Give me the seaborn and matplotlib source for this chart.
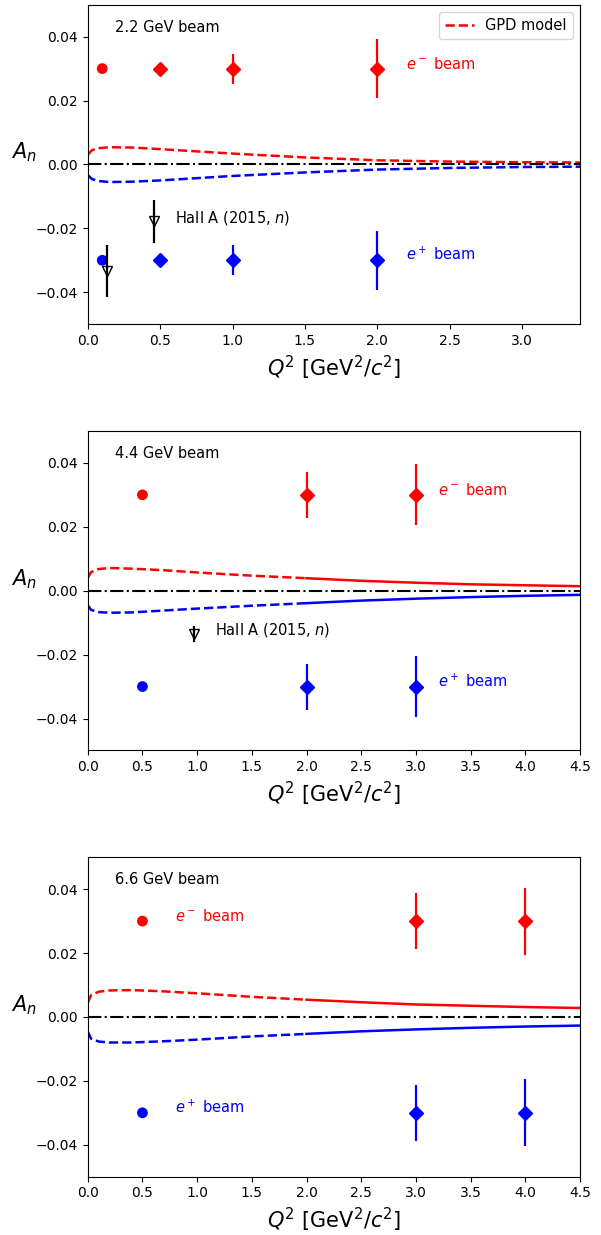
import numpy as np
import pandas as pd
import matplotlib
matplotlib.use("Agg")
import matplotlib.pyplot as plt
import seaborn as sns

# beam energies shown in the three panels
beams = ["2.2 GeV beam", "4.4 GeV beam", "6.6 GeV beam"]
x_max = [3.4, 4.5, 4.5]

# projected e- / e+ points (A_n = +/-0.03), first point of each panel is a circle
q2_circle = [0.1, 0.5, 0.5]
q2_diamond = [[0.5, 1.0, 2.0], [2.0, 3.0], [3.0, 4.0]]
err_diamond = [[0.0, 0.0047, 0.0092], [0.0072, 0.0095], [0.0088, 0.0105]]
an_value = 0.03

# GPD model curves
q2_model_top = [0.0, 0.03, 0.08, 0.15, 0.3, 0.5, 0.75, 1.0, 1.5, 2.0, 2.5, 3.0, 3.4]
red_top = [0.003, 0.0045, 0.0051, 0.0054, 0.0053, 0.0048, 0.0041, 0.0034, 0.0022, 0.0013, 0.0009, 0.0007, 0.0006]
blue_top = [-0.0033, -0.0046, -0.0052, -0.0055, -0.0054, -0.005, -0.0043, -0.0036, -0.0025, -0.0016, -0.0011, -0.0008, -0.0007]

q2_model = [0.0, 0.03, 0.1, 0.2, 0.4, 0.7, 1.0, 1.5, 2.0, 2.5, 3.0, 3.5, 4.0, 4.5]
red_mid = [0.004, 0.0058, 0.0068, 0.0071, 0.0069, 0.0064, 0.0057, 0.0047, 0.0039, 0.0031, 0.0025, 0.002, 0.0017, 0.0014]
blue_mid = [-0.0045, -0.006, -0.0067, -0.0069, -0.0068, -0.0062, -0.0056, -0.0047, -0.0039, -0.0031, -0.0025, -0.002, -0.0016, -0.0013]
red_bot = [0.0044, 0.0068, 0.0079, 0.0083, 0.0084, 0.008, 0.0074, 0.0063, 0.0054, 0.0046, 0.0039, 0.0035, 0.0031, 0.0028]
blue_bot = [-0.0045, -0.0068, -0.0077, -0.008, -0.008, -0.0076, -0.0071, -0.0061, -0.0053, -0.0045, -0.0039, -0.0034, -0.003, -0.0027]

# Hall A 2015 neutron data
halla_q2 = [[0.13, 0.46], [0.97], []]
halla_an = [[-0.0333, -0.0178], [-0.0135], []]
halla_err = [[0.0081, 0.0067], [0.0025], []]

# label positions
beam_text_x = [2.2, 3.2, 0.8]
halla_text = [(0.6, -0.0183), (1.16, -0.0137), None]

models = [
    (q2_model_top, red_top, blue_top),
    (q2_model, red_mid, blue_mid),
    (q2_model, red_bot, blue_bot),
]

fig, axes = plt.subplots(3, 1, figsize=(6.01, 12.35), dpi=100)
fig.subplots_adjust(left=0.146, right=0.965, top=0.9962, bottom=0.0472, hspace=0.334)

for i, ax in enumerate(axes):
    q2, red, blue = models[i]
    df = pd.DataFrame({"Q2": q2, "red": red, "blue": blue})

    # model: dashed at low Q2, solid above 2 GeV^2 (top panel all dashed)
    if i == 0:
        low = df
        high = None
    else:
        low = df[df["Q2"] <= 2.0]
        high = df[df["Q2"] >= 2.0]

    sns.lineplot(data=low, x="Q2", y="red", ax=ax, color="red", linestyle="--", lw=1.8,
                 label="GPD model" if i == 0 else None)
    sns.lineplot(data=low, x="Q2", y="blue", ax=ax, color="blue", linestyle="--", lw=1.8)
    if high is not None:
        sns.lineplot(data=high, x="Q2", y="red", ax=ax, color="red", lw=1.8)
        sns.lineplot(data=high, x="Q2", y="blue", ax=ax, color="blue", lw=1.8)

    ax.axhline(0, color="k", linestyle="-.", lw=1.5)

    # circle points
    sns.scatterplot(x=[q2_circle[i]], y=[an_value], ax=ax, color="red", marker="o", s=60,
                    edgecolor="none", zorder=5)
    sns.scatterplot(x=[q2_circle[i]], y=[-an_value], ax=ax, color="blue", marker="o", s=60,
                    edgecolor="none", zorder=5)

    # diamond points with error bars
    xd = q2_diamond[i]
    ed = err_diamond[i]
    ax.errorbar(xd, [an_value] * len(xd), yerr=ed, fmt="D", color="red", ms=7, lw=1.6, zorder=5)
    ax.errorbar(xd, [-an_value] * len(xd), yerr=ed, fmt="D", color="blue", ms=7, lw=1.6, zorder=5)

    # Hall A points
    if halla_q2[i]:
        ax.errorbar(halla_q2[i], halla_an[i], yerr=halla_err[i], fmt="v", color="k",
                    mfc="none", ms=7, lw=1.6, zorder=6)
        tx, ty = halla_text[i]
        ax.text(tx, ty, r"Hall A (2015, $n$)", fontsize=10.5)

    ax.text(beam_text_x[i], an_value, r"$e^-$ beam", color="red", fontsize=10.5)
    ax.text(beam_text_x[i], -an_value, r"$e^+$ beam", color="blue", fontsize=10.5)
    ax.text(0.055, 0.93, beams[i], transform=ax.transAxes, fontsize=10.5, va="center")

    ax.set_xlim(0, x_max[i])
    ax.set_ylim(-0.05, 0.05)
    ax.set_yticks([-0.04, -0.02, 0.0, 0.02, 0.04])
    ax.set_xlabel(r"$Q^2$ [GeV$^2/c^2$]", fontsize=15)
    ax.set_ylabel(r"$A_n$", fontsize=15, rotation=0)
    ax.yaxis.set_label_coords(-0.13, 0.5)

    if i == 0:
        ax.legend(loc="upper right", fontsize=10.5)
    else:
        leg = ax.get_legend()
        if leg is not None:
            leg.remove()

fig.savefig("out.png", dpi=100)
